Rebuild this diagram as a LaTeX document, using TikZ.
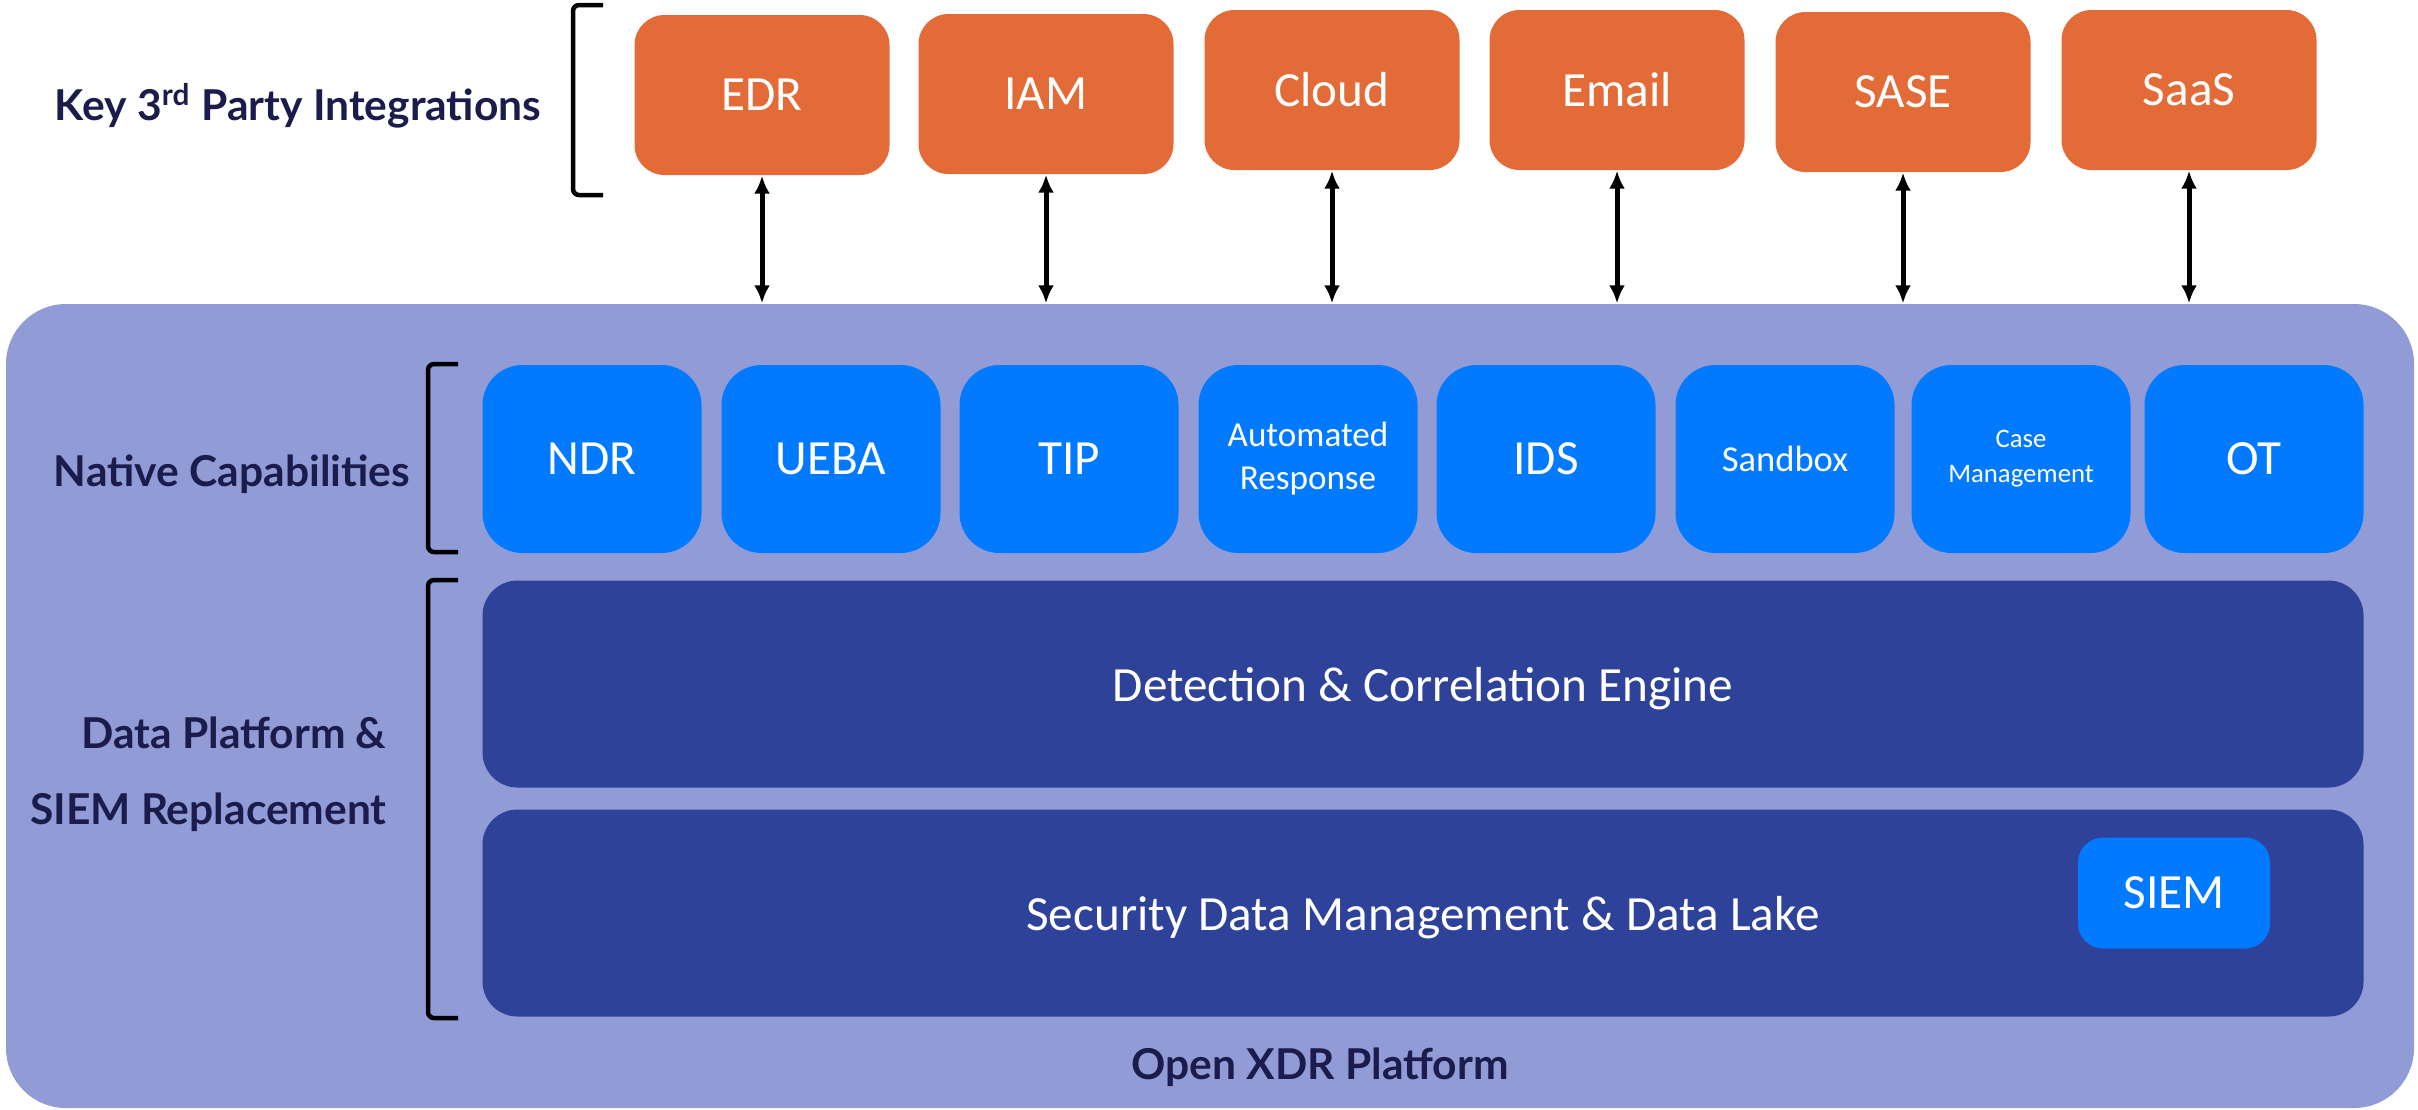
\documentclass[tikz,border=0pt]{standalone}
\usepackage{fontspec}
\setmainfont{Carlito}
\newfontfamily\latofont{Lato}
\usetikzlibrary{arrows.meta}
\definecolor{xdrorange}{RGB}{227,107,55}
\definecolor{xdrlilac}{RGB}{145,155,214}
\definecolor{xdrblue}{RGB}{2,122,255}
\definecolor{xdrnavy}{RGB}{47,66,153}
\definecolor{xdrink}{RGB}{27,28,75}
\begin{document}
\begin{tikzpicture}[x=0.1mm,y=-0.1mm,
    box/.style={inner sep=0pt,text=white,align=center,font=\fontsize{14}{17}\selectfont},
    extbox/.style={box,fill=xdrorange,rounded corners=3mm,minimum width=25.5mm,minimum height=16mm},
    capbox/.style={box,fill=xdrblue,rounded corners=4mm,minimum width=21.9mm,minimum height=18.8mm},
    layerbox/.style={box,fill=xdrnavy,rounded corners=3.5mm,minimum width=188.1mm,minimum height=20.7mm,text depth=0pt},
    lbl/.style={text=xdrink,font=\latofont\bfseries\fontsize{12.1}{21.5}\selectfont},
    brk/.style={line width=0.45mm,rounded corners=0.6mm},
    link/.style={line width=0.5mm,{Latex[length=1.8mm,width=1.6mm]}-{Latex[length=1.8mm,width=1.6mm]}}]
  \useasboundingbox (0,0) rectangle (2418,1109);

  % platform
  \node[fill=xdrlilac,rounded corners=6mm,minimum width=240.8mm,minimum height=80.4mm,inner sep=0pt] (plat) at (1210,706) {};
  \node[lbl] (platname) at (1320,1067) {Open XDR Platform};

  % third party boxes
  \foreach \n/\x/\y/\t in {edr/762/95/EDR, iam/1046/94/IAM, cloud/1332/90/Cloud,
                           email/1617/90/Email, sase/1903/92/SASE, saas/2189/90/SaaS}
    {\node[extbox] (\n) at (\x,\y) {\t};
     \draw[link] (\n.south) -- (\n.south |- plat.north);}

  % native capabilities
  \foreach \n/\x/\s/\b/\t in {ndr/592/14/17/NDR, ueba/831/14/17/UEBA, tip/1069/14/17/TIP,
                              resp/1308/10/12.2/{Automated\\Response}, ids/1546/14/17/IDS,
                              sandbox/1785/10.4/12/Sandbox, cases/2021/7.6/10/{Case\\Management},
                              ot/2254/14/17/OT}
    {\node[capbox,font=\fontsize{\s}{\b}\selectfont] (\n) at (\x,459) {\t};}

  % data platform
  \node[layerbox] (engine) at (1423,684) {Detection \& Correlation Engine};
  \node[layerbox] (lake) at (1423,913) {Security Data Management \& Data Lake};
  \node[box,fill=xdrblue,rounded corners=2.5mm,minimum width=19.2mm,minimum height=11.1mm] (siem) at (2174,893) {SIEM};

  % brackets and labels
  \draw[brk] (603,5) -- (573,5) -- (573,195) -- (603,195);
  \draw[brk] (458,364) -- (428,364) -- (428,552) -- (458,552);
  \draw[brk] (458,580) -- (428,580) -- (428,1018) -- (458,1018);
  \node[lbl] (keylbl) at (298,106) {Key 3\textsuperscript{rd} Party Integrations};
  \node[lbl] (natlbl) at (232,474) {Native Capabilities};
  \node[lbl,anchor=east,align=right] (datalbl) at (399,774) {Data Platform \&\\SIEM Replacement};
\end{tikzpicture}
\end{document}
